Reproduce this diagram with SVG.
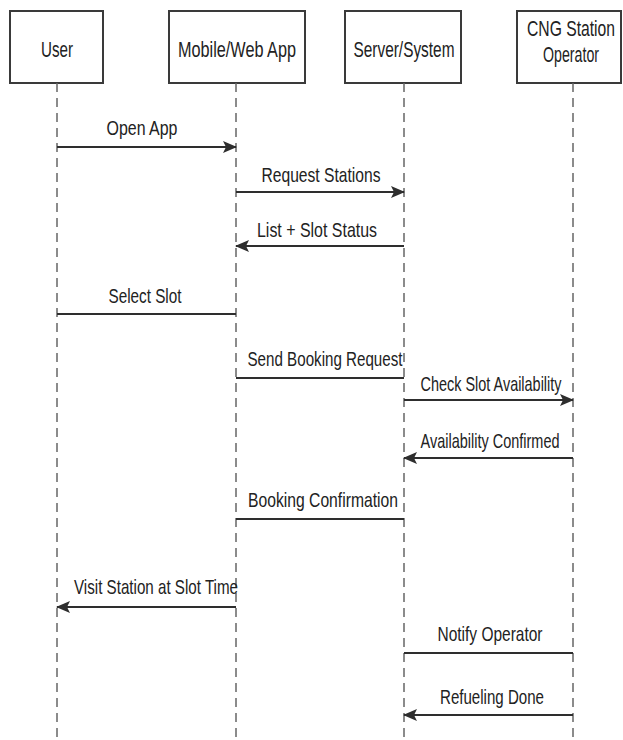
<svg xmlns="http://www.w3.org/2000/svg" width="623" height="740" viewBox="0 0 623 740">
  <style>
    .box { fill: #ffffff; stroke: #3a3a3a; stroke-width: 2; }
    .life { stroke: #666666; stroke-width: 1.5; stroke-dasharray: 9 6; fill: none; }
    .msg { stroke: #2e2e2e; stroke-width: 2.2; fill: none; }
    text { font-family: "Liberation Sans Narrow", "Liberation Sans", Arial, sans-serif; font-size: 21px; fill: #222222; text-anchor: middle; }
    .hd { font-size: 22px; }
  </style>
  <defs>
    <marker id="head" viewBox="0 0 14 12" refX="13" refY="6" markerWidth="14" markerHeight="12" markerUnits="userSpaceOnUse" orient="auto">
      <path d="M0,0 L14,6 L0,12 L3,6 Z" fill="#2e2e2e"/>
    </marker>
  </defs>
  <rect width="623" height="740" fill="#ffffff"/>

  <!-- participants -->
  <g id="user">
    <rect class="box" x="10" y="11" width="93" height="72"/>
    <line class="life" x1="57" y1="83" x2="57" y2="740"/>
    <text class="hd" x="57" y="57" textLength="32" lengthAdjust="spacingAndGlyphs">User</text>
  </g>
  <g id="app">
    <rect class="box" x="169" y="11" width="136" height="72"/>
    <line class="life" x1="236" y1="83" x2="236" y2="740"/>
    <text class="hd" x="237" y="57" textLength="118" lengthAdjust="spacingAndGlyphs">Mobile/Web App</text>
  </g>
  <g id="server">
    <rect class="box" x="345" y="11" width="116" height="72"/>
    <line class="life" x1="404" y1="83" x2="404" y2="740"/>
    <text class="hd" x="404" y="57" textLength="101" lengthAdjust="spacingAndGlyphs">Server/System</text>
  </g>
  <g id="operator">
    <rect class="box" x="517" y="11" width="104" height="72"/>
    <line class="life" x1="573" y1="83" x2="573" y2="740"/>
    <text class="hd" x="571" y="36" textLength="88" lengthAdjust="spacingAndGlyphs">CNG Station</text>
    <text class="hd" x="571" y="62" textLength="56" lengthAdjust="spacingAndGlyphs">Operator</text>
  </g>

  <!-- messages -->
  <g id="messages">
    <line class="msg" x1="57" y1="147" x2="236" y2="147" marker-end="url(#head)"/>
    <text x="142" y="135" textLength="71" lengthAdjust="spacingAndGlyphs">Open App</text>

    <line class="msg" x1="236" y1="192" x2="404" y2="192" marker-end="url(#head)"/>
    <text x="321" y="182" textLength="119" lengthAdjust="spacingAndGlyphs">Request Stations</text>

    <line class="msg" x1="404" y1="246" x2="236" y2="246" marker-end="url(#head)"/>
    <text x="317" y="237" textLength="120" lengthAdjust="spacingAndGlyphs">List + Slot Status</text>

    <line class="msg" x1="57" y1="314" x2="236" y2="314"/>
    <text x="145" y="303" textLength="73" lengthAdjust="spacingAndGlyphs">Select Slot</text>

    <line class="msg" x1="236" y1="378" x2="404" y2="378"/>
    <text x="325" y="366" textLength="155" lengthAdjust="spacingAndGlyphs">Send Booking Request</text>

    <line class="msg" x1="404" y1="400" x2="573" y2="400" marker-end="url(#head)"/>
    <text x="491" y="391" textLength="141" lengthAdjust="spacingAndGlyphs">Check Slot Availability</text>

    <line class="msg" x1="573" y1="458" x2="404" y2="458" marker-end="url(#head)"/>
    <text x="490" y="448" textLength="139" lengthAdjust="spacingAndGlyphs">Availability Confirmed</text>

    <line class="msg" x1="236" y1="519" x2="404" y2="519"/>
    <text x="323" y="507" textLength="150" lengthAdjust="spacingAndGlyphs">Booking Confirmation</text>

    <line class="msg" x1="236" y1="607" x2="57" y2="607" marker-end="url(#head)"/>
    <text x="156" y="594" textLength="164" lengthAdjust="spacingAndGlyphs">Visit Station at Slot Time</text>

    <line class="msg" x1="404" y1="653" x2="573" y2="653"/>
    <text x="490" y="641" textLength="105" lengthAdjust="spacingAndGlyphs">Notify Operator</text>

    <line class="msg" x1="573" y1="715" x2="404" y2="715" marker-end="url(#head)"/>
    <text x="492" y="704" textLength="104" lengthAdjust="spacingAndGlyphs">Refueling Done</text>
  </g>
</svg>
